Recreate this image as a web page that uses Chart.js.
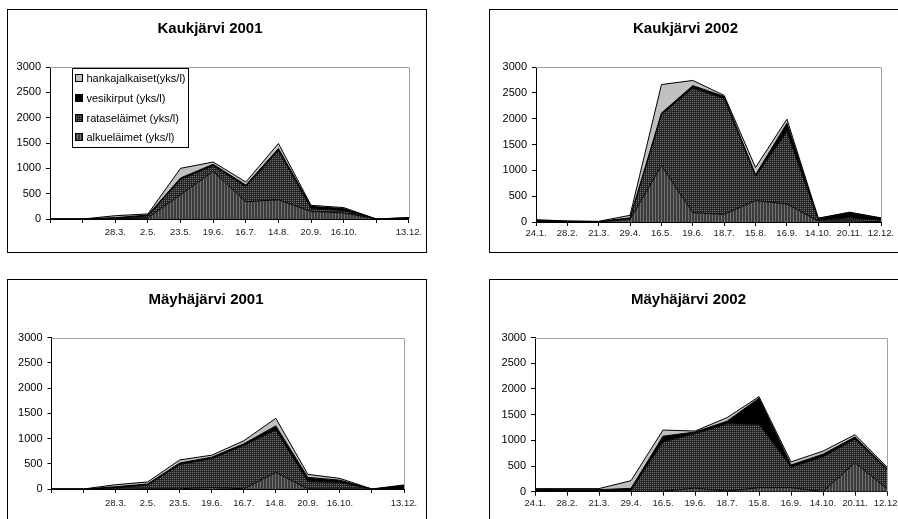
<!DOCTYPE html>
<html>
<head>
<meta charset="utf-8">
<script src="https://cdn.jsdelivr.net/npm/chart.js@4.4.0/dist/chart.umd.min.js"></script>
<style>
  html, body { margin: 0; padding: 0; background: #fff; width: 898px; height: 519px; overflow: hidden; }
  .box { position: absolute; border: 1px solid #000; width: 418px; height: 242px; background: #fff; }
  .box canvas { display: block; }
</style>
</head>
<body>
<div class="box" style="left:7px; top:9px;"><canvas id="kauk2001" width="418" height="242"></canvas></div>
<div class="box" style="left:489px; top:9px;"><canvas id="kauk2002" width="418" height="242"></canvas></div>
<div class="box" style="left:7px; top:279px;"><canvas id="mayh2001" width="418" height="242"></canvas></div>
<div class="box" style="left:489px; top:279px;"><canvas id="mayh2002" width="418" height="242"></canvas></div>

<script>
// Sampling dates (empty = no label on that sampling point)
const dates2001 = ['', '', '28.3.', '2.5.', '23.5.', '19.6.', '16.7.', '14.8.', '20.9.', '16.10.', '', '13.12.'];
const dates2002 = ['24.1.', '28.2.', '21.3.', '29.4.', '16.5.', '19.6.', '18.7.', '15.8.', '16.9.', '14.10.', '20.11.', '12.12.'];

// Stack order, bottom to top
const seriesNames = ['alkueläimet (yks/l)', 'rataseläimet (yks/l)', 'vesikirput (yks/l)', 'hankajalkaiset(yks/l)'];

// Y axis range (yks/l)
const yMin = 0;
const yMax = 3000;
const yStep = 500;

// Kaukjärvi 2001
const kauk2001Alkue = [0, 0, 5, 20, 480, 940, 340, 380, 150, 120, 0, 0];
const kauk2001Rata  = [0, 0, 15, 40, 300, 110, 300, 970, 55, 45, 0, 5];
const kauk2001Vesi  = [0, 0, 5, 20, 30, 30, 30, 40, 45, 40, 0, 20];
const kauk2001Hanka = [0, 0, 40, 20, 190, 45, 60, 100, 20, 20, 0, 5];

// Kaukjärvi 2002
const kauk2002Alkue = [10, 5, 2, 50, 1090, 180, 150, 415, 350, 20, 20, 5];
const kauk2002Rata  = [10, 5, 3, 20, 990, 2410, 2240, 470, 1400, 20, 60, 30];
const kauk2002Vesi  = [10, 5, 3, 10, 30, 50, 40, 30, 160, 30, 100, 40];
const kauk2002Hanka = [15, 5, 5, 50, 550, 100, 20, 140, 80, 5, 10, 5];

// Mäyhäjärvi 2001
const mayh2001Alkue = [0, 0, 0, 5, 5, 30, 5, 330, 5, 0, 0, 0];
const mayh2001Rata  = [0, 0, 20, 70, 480, 570, 860, 840, 140, 130, 0, 10];
const mayh2001Vesi  = [0, 0, 25, 25, 30, 30, 30, 80, 85, 45, 0, 60];
const mayh2001Hanka = [0, 0, 40, 40, 60, 40, 60, 150, 60, 35, 0, 10];

// Mäyhäjärvi 2002
const mayh2002Alkue = [5, 5, 5, 5, 10, 70, 10, 80, 80, 0, 565, 60];
const mayh2002Rata  = [5, 5, 5, 20, 960, 1060, 1310, 1230, 400, 680, 460, 360];
const mayh2002Vesi  = [35, 30, 30, 40, 110, 30, 50, 510, 40, 50, 40, 30];
const mayh2002Hanka = [15, 20, 20, 150, 120, 20, 70, 30, 60, 60, 45, 30];

Chart.defaults.font.family = '"Liberation Sans", Arial, Helvetica, sans-serif';
Chart.defaults.color = '#000';

// Small repeating tiles for the hatched fills
function makePattern(ctx, w, h, base, pixels) {
  const t = document.createElement('canvas');
  t.width = w; t.height = h;
  const g = t.getContext('2d');
  g.fillStyle = base;
  g.fillRect(0, 0, w, h);
  pixels.forEach(([x, y, c]) => { g.fillStyle = c; g.fillRect(x, y, 1, 1); });
  return ctx.createPattern(t, 'repeat');
}

// Gray top/right frame of the plot area
const plotFrame = {
  id: 'plotFrame',
  beforeDatasetsDraw(chart) {
    const { ctx, chartArea: a } = chart;
    ctx.save();
    ctx.strokeStyle = '#a0a0a0';
    ctx.lineWidth = 1;
    ctx.beginPath();
    ctx.moveTo(a.left, Math.round(a.top) + 0.5);
    ctx.lineTo(Math.round(a.right) + 0.5, Math.round(a.top) + 0.5);
    ctx.lineTo(Math.round(a.right) + 0.5, a.bottom);
    ctx.stroke();
    ctx.restore();
  }
};

// Boxed legend placed inside the plot area
const insetLegend = {
  id: 'insetLegend',
  afterDraw(chart, args, opts) {
    if (!opts.show) return;
    const ctx = chart.ctx;
    const x = opts.x, y = opts.y;
    ctx.save();
    ctx.fillStyle = '#fff';
    ctx.fillRect(x, y, opts.w, opts.h);
    ctx.strokeStyle = '#000';
    ctx.lineWidth = 1;
    ctx.strokeRect(x + 0.5, y + 0.5, opts.w, opts.h);
    ctx.font = '11px "Liberation Sans", Arial, sans-serif';
    ctx.textBaseline = 'middle';
    ctx.textAlign = 'left';
    const items = chart.data.datasets.slice().reverse();
    items.forEach((ds, i) => {
      const cy = Math.round(y + opts.firstRow + i * opts.rowH);
      ctx.fillStyle = ds.backgroundColor;
      ctx.fillRect(x + 4, cy - 3, 6, 6);
      ctx.strokeRect(x + 3.5, cy - 3.5, 7, 7);
      ctx.fillStyle = '#000';
      ctx.fillText(ds.label, x + 14.5, cy + 0.5);
    });
    ctx.restore();
  }
};

function drawLakeChart(canvasId, titleText, labels, alkue, rata, vesi, hanka, frame, legend) {
  const ctx = document.getElementById(canvasId).getContext('2d');
  const fills = [
    makePattern(ctx, 3, 2, '#3c3c3c', [[0, 0, '#707070'], [0, 1, '#707070']]),
    makePattern(ctx, 2, 2, '#242424', [[0, 0, '#767676']]),
    '#000000',
    '#c0c0c0'
  ];
  const values = [alkue, rata, vesi, hanka];
  const datasets = seriesNames.map((name, i) => ({
    label: name,
    data: values[i],
    backgroundColor: fills[i],
    borderColor: '#000',
    borderWidth: 1,
    fill: i === 0 ? 'origin' : '-1',
    pointRadius: 0,
    pointHoverRadius: 0,
    tension: 0
  }));

  return new Chart(ctx, {
    type: 'line',
    data: { labels: labels, datasets: datasets },
    plugins: [plotFrame, insetLegend],
    options: {
      responsive: false,
      animation: false,
      events: [],
      layout: { padding: { left: 0, right: frame.right, top: 0, bottom: 0 } },
      plugins: {
        legend: { display: false },
        tooltip: { enabled: false },
        title: {
          display: true,
          text: titleText,
          color: '#000',
          font: { size: 15, weight: 'bold' },
          padding: { top: frame.titleTop, bottom: frame.titleBottom }
        },
        insetLegend: legend || { show: false }
      },
      scales: {
        x: {
          type: 'category',
          offset: false,
          afterFit: (s) => { s.height = frame.xHeight; },
          grid: { display: true, drawOnChartArea: false, drawTicks: true, tickLength: 4, color: '#000' },
          border: { display: true, color: '#000', width: 1 },
          ticks: {
            autoSkip: false,
            maxRotation: 0,
            padding: frame.xPad,
            color: '#222',
            font: { size: 9.5 }
          }
        },
        y: {
          stacked: true,
          min: yMin,
          max: yMax,
          afterFit: (s) => { s.width = frame.yWidth; },
          grid: { display: true, drawOnChartArea: false, drawTicks: true, tickLength: 4, color: '#000' },
          border: { display: true, color: '#000', width: 1 },
          ticks: {
            stepSize: yStep,
            padding: 5,
            color: '#000',
            font: { size: 11 },
            callback: (v) => String(v)
          }
        }
      }
    }
  });
}

drawLakeChart('kauk2001', 'Kaukjärvi 2001', dates2001,
  kauk2001Alkue, kauk2001Rata, kauk2001Vesi, kauk2001Hanka,
  { titleTop: 10, titleBottom: 29, yWidth: 42, right: 14, xHeight: 33, xPad: 3.8 },
  { show: true, x: 64, y: 58, w: 116, h: 79, firstRow: 10.3, rowH: 19.6 });

drawLakeChart('kauk2002', 'Kaukjärvi 2002', dates2002,
  kauk2002Alkue, kauk2002Rata, kauk2002Vesi, kauk2002Hanka,
  { titleTop: 10, titleBottom: 29, yWidth: 46, right: 27, xHeight: 30, xPad: 1.2 });

drawLakeChart('mayh2001', 'Mäyhäjärvi 2001', dates2001,
  mayh2001Alkue, mayh2001Rata, mayh2001Vesi, mayh2001Hanka,
  { titleTop: 11, titleBottom: 28.5, yWidth: 43.5, right: 22, xHeight: 33, xPad: 4.3 });

drawLakeChart('mayh2002', 'Mäyhäjärvi 2002', dates2002,
  mayh2002Alkue, mayh2002Rata, mayh2002Vesi, mayh2002Hanka,
  { titleTop: 11, titleBottom: 28.5, yWidth: 45, right: 21, xHeight: 30.3, xPad: 1.6 });
</script>
</body>
</html>
